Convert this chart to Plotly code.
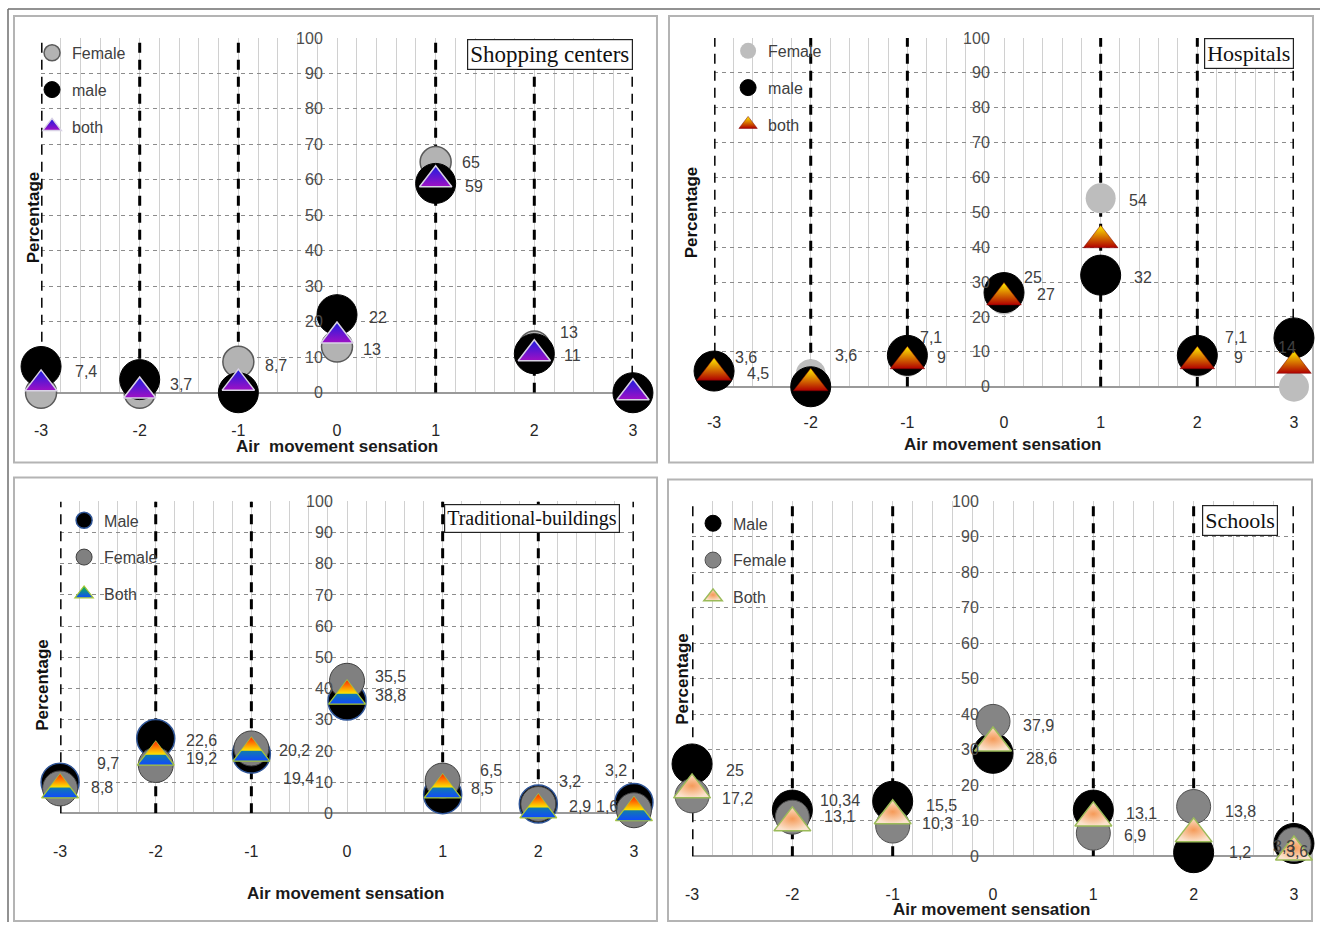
import plotly.graph_objects as go

W, H = 1325, 931
# The photographed page shows up inset by ~7px and slightly scaled; positions below are
# target picture pixels and are mapped back to page pixels with these constants.
INSET = 7.0
SX = (W - 2 * INSET) / W
SY = (H - 2 * INSET) / H

# ---------------- data ----------------
sensation = [-3, -2, -1, 0, 1, 2, 3]
sensation_labels = ["-3", "-2", "-1", "0", "1", "2", "3"]
percent_ticks = [0, 10, 20, 30, 40, 50, 60, 70, 80, 90, 100]

# Shopping centers
shop_female = [0, 0, 8.7, 13, 65, 13, 0]
shop_male = [7.4, 3.7, 0, 22, 59, 11, 0]
shop_both = [2.5, 0.5, 2.7, 16, 60, 11, 0]
shop_female_labels = [None, None, "8,7", "13", "65", "13", None]
shop_male_labels = ["7,4", "3,7", None, "22", "59", "11", None]

# Hospitals
hosp_female = [3.6, 3.6, 7.1, 25, 54, 7.1, 0]
hosp_male = [4.5, 0, 9, 27, 32, 9, 14]
hosp_both = [4, 1, 7.3, 25.6, 42, 7.3, 6]
hosp_female_labels = ["3,6", "3,6", "7,1", "25", "54", "7,1", None]
hosp_male_labels = ["4,5", None, "9", "27", "32", "9", "14"]

# Traditional buildings
trad_male = [10, 24, 19, 36, 6, 3, 3.5]
trad_female = [8, 15.5, 20.8, 42.5, 10.5, 3, 1]
trad_both = [7.5, 18, 19.3, 37.6, 7.5, 1.1, 0.2]
trad_male_labels = ["9,7", "22,6", "19,4", "35,5", "6,5", "3,2", "3,2"]
trad_female_labels = ["8,8", "19,2", "20,2", "38,8", "8,5", "2,9", "1,6"]

# Schools
school_male = [26, 13, 15.5, 29, 13, 1, 3.6]
school_female = [17, 11, 8.5, 38, 6.5, 14, 3.3]
school_both = [18.7, 9.4, 11.4, 31.9, 10.8, 6.3, 1.2]
school_male_labels = ["25", "13,1", "15,5", "28,6", "13,1", "1,2", "3,6"]
school_female_labels = ["17,2", "10,34", "10,3", "37,9", "6,9", "13,8", "3,3"]

# ---------------- label offsets (pixels: dx right, dy up) ----------------
shop_female_shift = [None, None, (25, -4), (24, -3), (24, 0), (24, 14), None]
shop_male_shift = [(32, -5), (28, -5), None, (30, -3), (27, -3), (28, -2), None]
hosp_female_shift = [(19, 17), (22, 19), (11, 24), (18, 22), (26, -2), (26, 24), None]
hosp_male_shift = [(31, -2), None, (28, -2), (31, -2), (31, -2), (35, -2), (-18, -10)]
trad_male_shift = [(35, 20), (28, 2), (30, -26), (26, 26), (35, 23), (19, 22), (-31, 33)]
trad_female_shift = [(29, -2), (28, -5), (26, 0), (26, -3), (26, -2), (29, -2), (-40, 2)]
school_male_shift = [(32, -3), (30, -7), (31, -4), (31, -4), (31, -4), (33, -1), (-10, -8)]
school_female_shift = [(28, -3), (26, 19), (27, -4), (28, -4), (29, -4), (29, -4), (-23, -2)]


def page_x(t):
    return (t - INSET) / SX


def page_y(t):
    return (t - INSET) / SY


def fx(t):
    return page_x(t) / W


def fy(t):
    return 1 - page_y(t) / H


SANS = "Liberation Sans, Arial, sans-serif"
SERIF = "Liberation Serif, Times New Roman, serif"

fig = go.Figure()
layout = dict(
    width=W, height=H,
    margin=dict(l=0, r=0, t=0, b=0),
    paper_bgcolor="white", plot_bgcolor="rgba(0,0,0,0)",
    font=dict(family=SANS, size=16, color="#404040"),
    hovermode=False,
)
shapes = []
annotations = []

panels = [
    dict(n=1, title="Shopping centers", xpx=(41, 632), ypx=(37, 393), ticklen=23,
         title_box=(466, 38, 23), ytitle=(33, 217), xtitle=(336, 447),
         xtitle_text="Air\u00a0 movement sensation",
         legend=(32, 35),
         labels=[(shop_female_labels, shop_female_shift), (shop_male_labels, shop_male_shift)]),
    dict(n=2, title="Hospitals", xpx=(713, 1292), ypx=(37, 387), ticklen=21,
         title_box=(1202, 37, 22), ytitle=(690, 212), xtitle=(1001, 445),
         xtitle_text="Air movement sensation",
         legend=(727, 33),
         labels=[(hosp_female_labels, hosp_female_shift), (hosp_male_labels, hosp_male_shift)]),
    dict(n=3, title="Traditional-buildings", xpx=(60, 633), ypx=(502, 815), ticklen=23,
         title_box=(443, 505, 20), ytitle=(43, 686), xtitle=(345, 895),
         xtitle_text="Air movement sensation",
         legend=(64, 504),
         labels=[(trad_male_labels, trad_male_shift), (trad_female_labels, trad_female_shift)]),
    dict(n=4, title="Schools", xpx=(691, 1292), ypx=(502, 858), ticklen=24,
         title_box=(1200, 506, 22), ytitle=(682, 680), xtitle=(990, 911),
         xtitle_text="Air movement sensation",
         legend=(692, 507),
         labels=[(school_male_labels, school_male_shift), (school_female_labels, school_female_shift)]),
]

series = {
    1: [
        ("Female", shop_female, dict(symbol="circle", size=31, color="#b3b3b3",
                                     line=dict(color="#5a5a5a", width=1.5))),
        ("male", shop_male, dict(symbol="circle", size=40, color="#000000",
                                 line=dict(color="#000000", width=1))),
        ("both", shop_both, dict(symbol="triangle-up", size=28, color="#1c1ce0",
                                 gradient=dict(type="vertical", color="#a010c4"),
                                 line=dict(color="#d9d2e6", width=1.5))),
    ],
    2: [
        ("Female", hosp_female, dict(symbol="circle", size=30, color="#bdbdbd",
                                     line=dict(color="#bdbdbd", width=0))),
        ("male", hosp_male, dict(symbol="circle", size=40, color="#000000",
                                 line=dict(color="#000000", width=1))),
        ("both", hosp_both, dict(symbol="triangle-up", size=30, color="#ffee00",
                                 gradient=dict(type="vertical", color="#b00000"),
                                 line=dict(color="#7a0000", width=0.5))),
    ],
    3: [
        ("Male", trad_male, dict(symbol="circle", size=38, color="#000000",
                                 line=dict(color="#2f5597", width=1.5))),
        ("Female", trad_female, dict(symbol="circle", size=35, color="#808080",
                                     line=dict(color="#404040", width=1))),
        ("Both", trad_both, dict(symbol="triangle-up", size=32, color="#10c040",
                                 gradient=dict(type="vertical", color="#1048ff"),
                                 line=dict(color="#a8c838", width=1.2))),
    ],
    4: [
        ("Male", school_male, dict(symbol="circle", size=40, color="#000000",
                                   line=dict(color="#000000", width=1))),
        ("Female", school_female, dict(symbol="circle", size=34, color="#858585",
                                       line=dict(color="#505050", width=1))),
        ("Both", school_both, dict(symbol="triangle-up", size=32, color="#fbe2cc",
                                   gradient=dict(type="radial", color="#f59a58"),
                                   line=dict(color="#9bbb59", width=1.5))),
    ],
}

for p in panels:
    n = p["n"]
    sfx = "" if n == 1 else str(n)
    xid, yid = "x" + sfx, "y" + sfx
    legid = "legend" + sfx
    x0, x1 = p["xpx"]
    y0, y1 = p["ypx"]
    xzero = (x0 + x1) / 2

    layout["xaxis" + sfx] = dict(
        domain=[fx(x0), fx(x1)], range=[-3, 3], anchor=yid,
        tickmode="array", tickvals=sensation, ticktext=sensation_labels,
        ticks="outside", ticklen=p["ticklen"], tickcolor="rgba(0,0,0,0)",
        tickfont=dict(family=SANS, size=16, color="#262626"),
        showgrid=True, gridcolor="#d0d0d0", gridwidth=1,
        minor=dict(tickmode="linear", tick0=0, dtick=0.2, showgrid=True,
                   gridcolor="#d0d0d0", gridwidth=1),
        zeroline=False, showline=False, fixedrange=True,
    )
    layout["yaxis" + sfx] = dict(
        domain=[fy(y1), fy(y0)], range=[0, 100], anchor="free", position=fx(xzero),
        tickmode="array", tickvals=percent_ticks,
        ticks="outside", ticklen=11, tickcolor="rgba(0,0,0,0)",
        tickfont=dict(family=SANS, size=16, color="#4d4d4d"),
        showgrid=True, gridcolor="#8c8c8c", gridwidth=1, griddash="4px,4px",
        zeroline=True, zerolinecolor="#9a9a9a", zerolinewidth=2,
        showline=False, fixedrange=True,
    )
    lx, ly = p["legend"]
    layout[legid] = dict(
        x=fx(lx), y=fy(ly), xanchor="left", yanchor="top",
        bgcolor="rgba(0,0,0,0)", borderwidth=0,
        font=dict(family=SANS, size=16, color="#404040"),
        traceorder="grouped", tracegroupgap=13, itemsizing="trace",
    )

    for s in sensation:
        if s == 0:
            continue
        shapes.append(dict(type="line", xref=xid, yref=yid, x0=s, x1=s, y0=0, y1=100,
                           line=dict(color="black", width=3, dash="10px,7px"),
                           layer="between"))

    for name, vals, mk in series[n]:
        fig.add_trace(go.Scatter(
            x=sensation, y=vals, mode="markers", name=name,
            xaxis=xid, yaxis=yid, legend=legid, legendgroup=f"p{n}{name}",
            marker=mk, cliponaxis=False, hoverinfo="skip",
        ))
        if n == 3 and name == "Both":
            big, small = mk["size"], 18
            ppu = (page_y(y1) - page_y(y0)) / 100.0
            dy = ((big - small) / 2.0) / ppu
            fig.add_trace(go.Scatter(
                x=sensation, y=[v + dy for v in vals], mode="markers", name=name,
                xaxis=xid, yaxis=yid, legend=legid, legendgroup=f"p{n}{name}",
                showlegend=False,
                marker=dict(symbol="triangle-up", size=small, color="#ff2a00",
                            gradient=dict(type="vertical", color="#ffe800"),
                            line=dict(width=0)),
                cliponaxis=False, hoverinfo="skip",
            ))

    for labels, shifts in p["labels"]:
        for s, lab, sh in zip(sensation, labels, shifts):
            if lab is None:
                continue
            dx, dy = sh
            annotations.append(dict(
                x=s, y=float(lab.replace(",", ".")), xref=xid, yref=yid,
                text=lab, showarrow=False, xanchor="left", yanchor="middle",
                xshift=dx, yshift=dy,
                font=dict(family=SANS, size=16, color="#404040"),
            ))

    tx, ty, tfs = p["title_box"]
    annotations.append(dict(
        x=fx(tx), y=fy(ty), xref="paper", yref="paper", xanchor="left", yanchor="top",
        text=p["title"], showarrow=False,
        font=dict(family=SERIF, size=tfs, color="#111111"),
        bgcolor="white", bordercolor="#222222", borderwidth=1.2, borderpad=2,
    ))
    yx, yy = p["ytitle"]
    annotations.append(dict(
        x=fx(yx), y=fy(yy), xref="paper", yref="paper", xanchor="center", yanchor="middle",
        text="<b>Percentage</b>", textangle=-90, showarrow=False,
        font=dict(family=SANS, size=17, color="#111111"),
    ))
    xx, xy = p["xtitle"]
    annotations.append(dict(
        x=fx(xx), y=fy(xy), xref="paper", yref="paper", xanchor="center", yanchor="middle",
        text="<b>" + p["xtitle_text"] + "</b>", showarrow=False,
        font=dict(family=SANS, size=17, color="#1a1a1a"),
    ))

# panel frames
for (a, b, c, d) in [(14, 15, 656, 463), (668, 15, 1311, 463),
                     (14, 478, 656, 923), (667, 480, 1310, 923)]:
    shapes.append(dict(type="rect", xref="paper", yref="paper",
                       x0=fx(a), x1=fx(c), y0=fy(d), y1=fy(b),
                       line=dict(color="#b4b4b4", width=2), fillcolor="rgba(0,0,0,0)",
                       layer="below"))
# outer frame (top and left edges)
shapes.append(dict(type="line", xref="paper", yref="paper",
                   x0=fx(8), x1=1, y0=fy(8), y1=fy(8),
                   line=dict(color="#6e6e6e", width=1.5), layer="below"))
shapes.append(dict(type="line", xref="paper", yref="paper",
                   x0=fx(8), x1=fx(8), y0=0, y1=fy(8),
                   line=dict(color="#6e6e6e", width=1.5), layer="below"))

layout["shapes"] = shapes
layout["annotations"] = annotations
fig.update_layout(**layout)

fig.write_html(
    "out.html",
    config={"displayModeBar": False},
    post_script="document.documentElement.style.margin='0px';document.body.style.margin='0px';"
                "document.documentElement.style.overflow='hidden';document.body.style.overflow='hidden';",
)
